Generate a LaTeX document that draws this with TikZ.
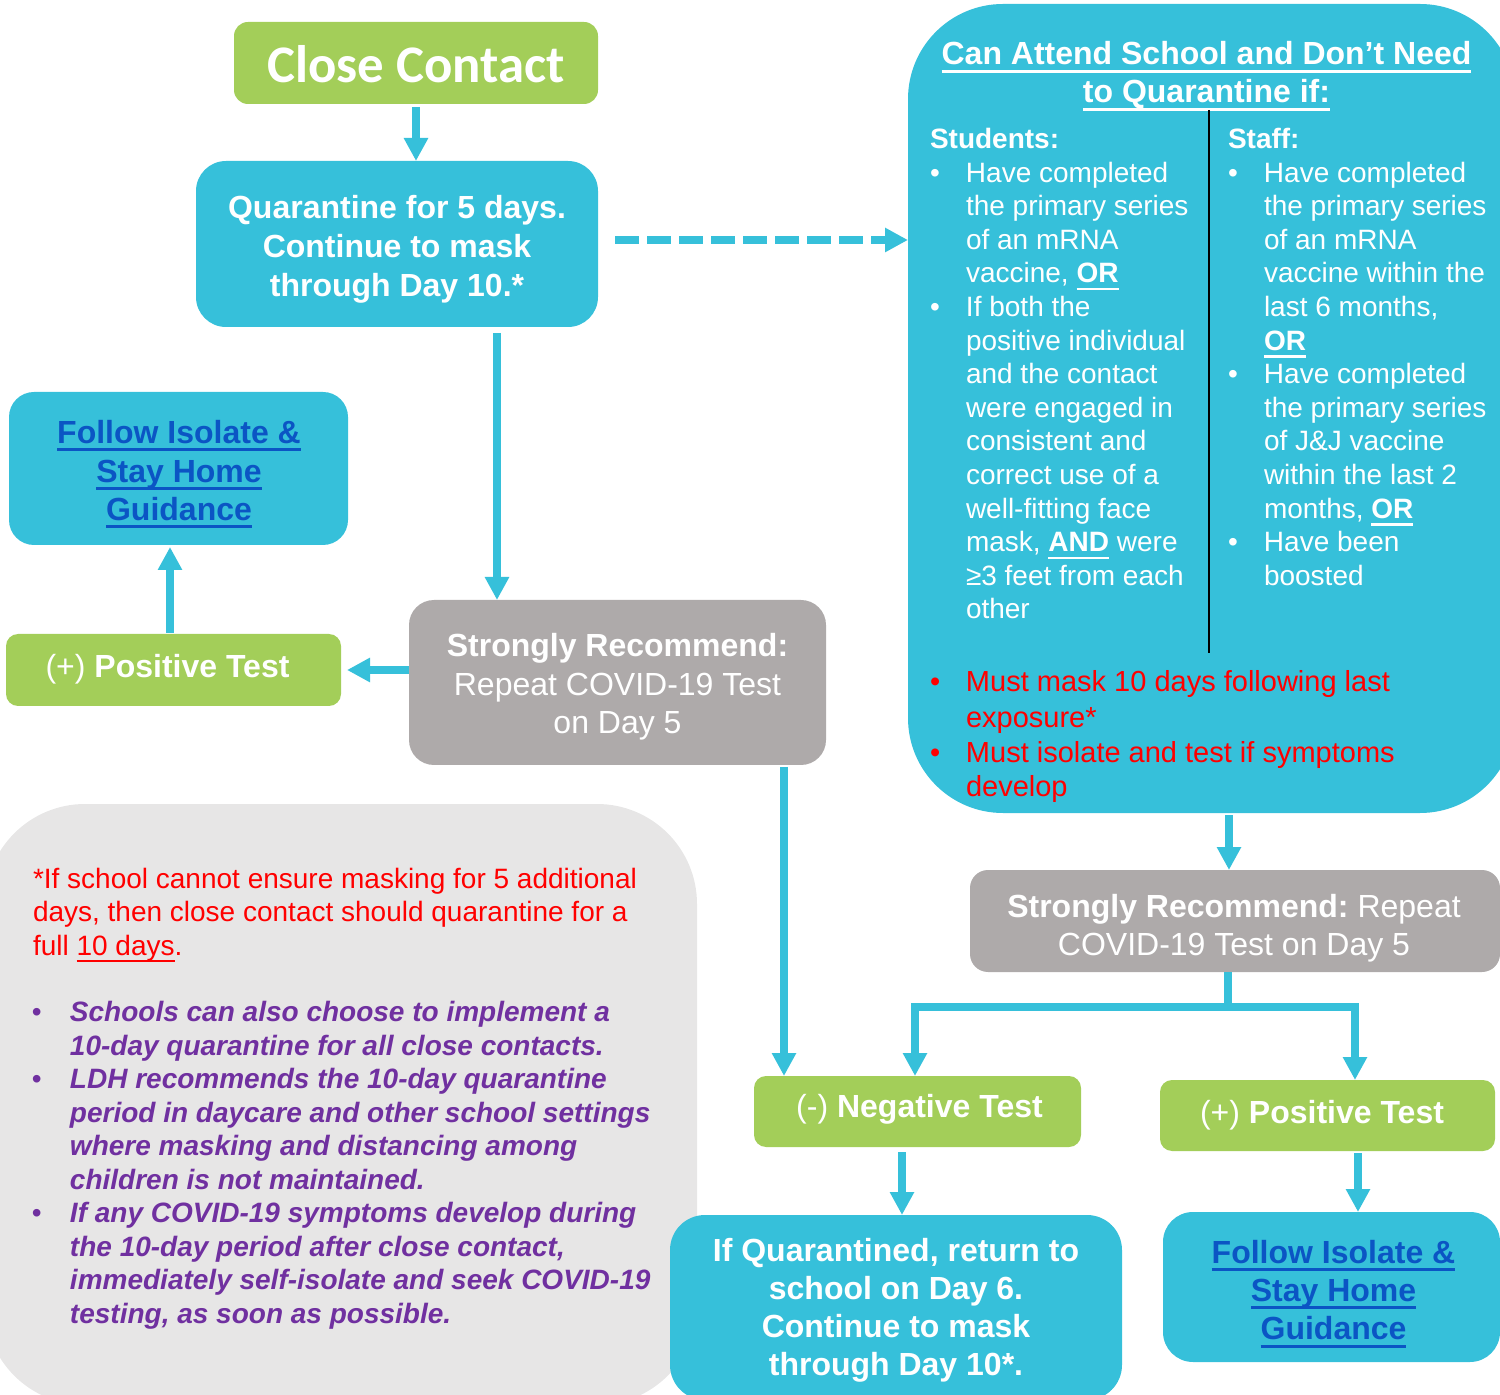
\documentclass[tikz,border=0pt]{standalone}
\usepackage{fontspec}
\setmainfont{Liberation Sans}
\newfontfamily\calibri{Carlito}
\usetikzlibrary{arrows.meta,calc}
\definecolor{cblue}{RGB}{54,192,218}
\definecolor{cgreen}{RGB}{163,206,89}
\definecolor{cgrey}{RGB}{174,170,170}
\definecolor{clight}{RGB}{231,230,230}
\definecolor{clink}{RGB}{11,85,196}
\definecolor{cred}{RGB}{255,0,0}
\definecolor{cpurple}{RGB}{112,48,160}
\frenchspacing
\newsavebox\ulbox
\newcommand\ulw[2]{\sbox\ulbox{#2}\rlap{\rule[\dimexpr-2.4pt-#1\relax]{\wd\ulbox}{#1}}\usebox\ulbox}
\newcommand\ctab[1]{\begin{tabular}{@{}c@{}}#1\end{tabular}}
\tikzset{
  box/.style={draw=none, inner sep=0pt, outer sep=0pt},
  bluebox/.style={box, fill=cblue},
  greenbox/.style={box, fill=cgreen},
  greybox/.style={box, fill=cgrey},
  txt/.style={inner sep=0pt, outer sep=0pt, text=white},
  bigtxt/.style={txt, font=\fontsize{16}{19.2}\selectfont},
  conn/.style={draw=cblue, line width=3.6pt},
  arr/.style={conn, -{Triangle[width=11.5pt,length=11.5pt]}},
  dasharr/.style={arr, dash pattern=on 12pt off 4pt}
}
\begin{document}
\begin{tikzpicture}[x=0.5pt,y=-0.5pt]
\useasboundingbox (0,0) rectangle (1500,1395);

% ---------- boxes ----------
\node[box, fill=clight, minimum width=356pt, minimum height=300.5pt, rounded corners=50pt] (note) at (341,1104.5) {};
\node[greenbox, minimum width=182pt, minimum height=41pt, rounded corners=7pt] (close) at (416,63) {};
\node[bluebox, minimum width=201pt, minimum height=83pt, rounded corners=15pt] (quar) at (397,244) {};
\node[bluebox, minimum width=303.5pt, minimum height=404.5pt, rounded corners=47.5pt] (bigbox) at (1211.5,408.5) {};
\node[bluebox, minimum width=169.5pt, minimum height=76.5pt, rounded corners=12.5pt] (follow1) at (178.5,468.5) {};
\node[greenbox, minimum width=167.5pt, minimum height=36pt, rounded corners=6pt] (pos1) at (173.5,670) {};
\node[greybox, minimum width=208.5pt, minimum height=82.5pt, rounded corners=12.5pt] (grey1) at (617.5,682.5) {};
\node[greybox, minimum width=265pt, minimum height=51pt, rounded corners=9pt] (grey2) at (1235,921) {};
\node[greenbox, minimum width=163.5pt, minimum height=35.5pt, rounded corners=6pt] (neg) at (917.5,1111.5) {};
\node[greenbox, minimum width=167.5pt, minimum height=35.5pt, rounded corners=6pt] (pos2) at (1327.5,1115.5) {};
\node[bluebox, minimum width=226pt, minimum height=92.5pt, rounded corners=17.5pt] (ret) at (896,1307.5) {};
\node[bluebox, minimum width=168.5pt, minimum height=75pt, rounded corners=15pt] (follow2) at (1331.5,1287) {};

% ---------- box texts ----------
\node[txt, font=\calibri\bfseries\fontsize{26.4}{31.5}\selectfont] (close-t) at (416,70.4) {\ctab{Close Contact}};
\node[bigtxt, font=\bfseries\fontsize{16}{19.5}\selectfont] (quar-t) at (397,249.9)
  {\ctab{Quarantine for 5 days.\\Continue to mask\\through Day 10.*}};
\node[bigtxt, text=clink, font=\bfseries\fontsize{16}{19.2}\selectfont] (follow1-t) at (179,474.4)
  {\ctab{\ulw{1.5pt}{Follow Isolate \&}\\\ulw{1.5pt}{Stay Home}\\\ulw{1.5pt}{Guidance}}};
\node[bigtxt] (pos1-t) at (167.5,670.3) {\ctab{(+) \textbf{Positive Test}}};
\node[bigtxt] (grey1-t) at (617.5,687.7)
  {\ctab{\textbf{Strongly Recommend:}\\Repeat COVID-19 Test\\on Day 5}};
\node[bigtxt, font=\fontsize{16}{19}\selectfont] (grey2-t) at (1234,928.4)
  {\ctab{\textbf{Strongly Recommend:} Repeat\\COVID-19 Test on Day 5}};
\node[bigtxt] (neg-t) at (919.5,1110.3) {\ctab{(-) \textbf{Negative Test}}};
\node[bigtxt] (pos2-t) at (1322,1116.3) {\ctab{(+) \textbf{Positive Test}}};
\node[bigtxt, font=\bfseries\fontsize{16}{19}\selectfont] (ret-t) at (896,1310.4)
  {\ctab{If Quarantined, return to\\school on Day 6.\\Continue to mask\\through Day 10*.}};
\node[bigtxt, text=clink, font=\bfseries\fontsize{16}{19.2}\selectfont] (follow2-t) at (1333.5,1293.8)
  {\ctab{\ulw{1.5pt}{Follow Isolate \&}\\\ulw{1.5pt}{Stay Home}\\\ulw{1.5pt}{Guidance}}};

% ---------- big box content ----------
\node[txt, font=\bfseries\fontsize{16}{19}\selectfont] (title) at (1206.5,76.4)
  {\ctab{\ulw{1.5pt}{Can Attend School and Don’t Need}\\\ulw{1.5pt}{to Quarantine if:}}};
\draw[black, line width=1pt] (1209,110) -- (1209,653);
\node[txt, anchor=north west, font=\fontsize{14}{16.8}\selectfont] (students) at (930,125)
  {\begin{tabular}{@{}p{18pt}@{}l@{}}
   \multicolumn{2}{@{}l@{}}{\bfseries Students:}\\
   \textbullet & Have completed\\
   & the primary series\\
   & of an mRNA\\
   & vaccine, \ulw{1.3pt}{\textbf{OR}}\\
   \textbullet & If both the\\
   & positive individual\\
   & and the contact\\
   & were engaged in\\
   & consistent and\\
   & correct use of a\\
   & well-fitting face\\
   & mask, \ulw{1.3pt}{\textbf{AND}} were\\
   & ≥3 feet from each\\
   & other
  \end{tabular}};
\node[txt, anchor=north west, font=\fontsize{14}{16.8}\selectfont] (staff) at (1228,125)
  {\begin{tabular}{@{}p{18pt}@{}l@{}}
   \multicolumn{2}{@{}l@{}}{\bfseries Staff:}\\
   \textbullet & Have completed\\
   & the primary series\\
   & of an mRNA\\
   & vaccine within the\\
   & last 6 months,\\
   & \ulw{1.3pt}{\textbf{OR}}\\
   \textbullet & Have completed\\
   & the primary series\\
   & of J\&J vaccine\\
   & within the last 2\\
   & months, \ulw{1.3pt}{\textbf{OR}}\\
   \textbullet & Have been\\
   & boosted
  \end{tabular}};
\node[txt, text=cred, anchor=north west, font=\fontsize{14.5}{17.5}\selectfont] (musts) at (930,667.5)
  {\begin{tabular}{@{}p{18pt}@{}l@{}}
   \textbullet & Must mask 10 days following last\\
   & exposure*\\
   \textbullet & Must isolate and test if symptoms\\
   & develop
  \end{tabular}};

% ---------- note text ----------
\node[txt, text=cred, anchor=north west, font=\fontsize{14}{16.75}\selectfont] (note-red) at (33,865)
  {\begin{tabular}{@{}l@{}}
   *If school cannot ensure masking for 5 additional\\
   days, then close contact should quarantine for a\\
   full \ulw{1pt}{10 days}.
  \end{tabular}};
\node[txt, text=cpurple, anchor=north west, font=\bfseries\itshape\fontsize{14}{16.75}\selectfont] (note-list) at (32,998.5)
  {\begin{tabular}{@{}p{19pt}@{}l@{}}
   {\normalfont\textbullet} & Schools can also choose to implement a\\
   & 10-day quarantine for all close contacts.\\
   {\normalfont\textbullet} & LDH recommends the 10-day quarantine\\
   & period in daycare and other school settings\\
   & where masking and distancing among\\
   & children is not maintained.\\
   {\normalfont\textbullet} & If any COVID-19 symptoms develop during\\
   & the 10-day period after close contact,\\
   & immediately self-isolate and seek COVID-19\\
   & testing, as soon as possible.
  \end{tabular}};

% ---------- connectors ----------
\coordinate (cs) at ($(close.south)+(0,3)$);
\draw[arr] (cs) -- (cs |- quar.north);
\coordinate (dstart) at ($(quar.east)+(17,-4)$);
\draw[dasharr] (dstart) -- (dstart -| bigbox.west);
\coordinate (q2) at ($(quar.south)+(100,6)$);
\draw[arr] (q2) -- (q2 |- grey1.north);
\coordinate (g1w) at ($(grey1.west)+(0,-12.5)$);
\draw[arr, shorten >=3pt] (g1w) -- (g1w -| pos1.east);
\coordinate (p1n) at ($(pos1.north)+(-3.5,-1)$);
\draw[arr, shorten >=1pt] (p1n) -- (p1n |- follow1.south);
\coordinate (g1s) at ($(grey1.south)+(166.5,2)$);
\draw[arr] (g1s) -- (g1s |- neg.north);
\coordinate (bbs) at ($(bigbox.south)+(17.5,2)$);
\draw[arr] (bbs) -- (bbs |- grey2.north);
\coordinate (g2s) at ($(grey2.south)+(-7,0)$);
\coordinate (jn) at ($(g2s)+(0,35)$);
\draw[conn] (g2s) -- (jn);
\draw[arr] (jn) -| ($(neg.north)+(-2.5,0)$);
\draw[arr] (jn) -| ($(pos2.north)+(27.5,0)$);
\coordinate (ns) at ($(neg.south)+(-15.5,5)$);
\draw[arr] (ns) -- (ns |- ret.north);
\coordinate (ps) at ($(pos2.south)+(30.5,2)$);
\draw[arr] (ps) -- (ps |- follow2.north);
\end{tikzpicture}
\end{document}
